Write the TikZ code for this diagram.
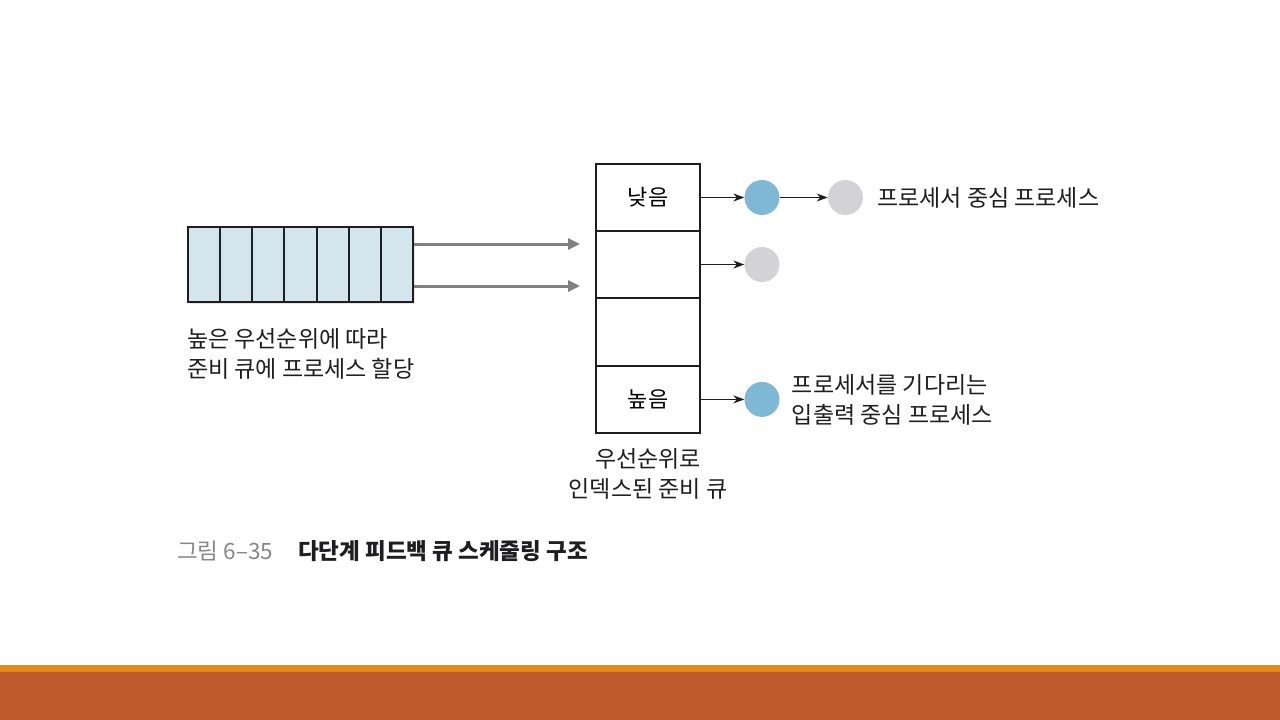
\documentclass[tikz,border=0pt]{standalone}
\usepackage{fontspec}
\setmainfont{Noto Sans CJK KR}
\usetikzlibrary{
  arrows.meta,
  positioning,
  shadows
}
\definecolor{QueueBlue}{RGB}{211,230,238}
\definecolor{LineDark}{RGB}{30,30,32}
\definecolor{FeedGray}{RGB}{128,128,128}
\definecolor{CpuBlue}{RGB}{126,184,212}
\definecolor{IdleGray}{RGB}{211,211,213}
\definecolor{CaptionGray}{RGB}{135,135,135}
\definecolor{BarOrange}{RGB}{224,138,30}
\definecolor{BarRust}{RGB}{190,90,44}
\tikzset{
  qcell/.style={
    draw=LineDark,
    fill=QueueBlue,
    line width=2pt,
    minimum width=32.14,
    minimum height=75,
    inner sep=0
  },
  pcell/.style={
    draw=LineDark,
    fill=white,
    line width=2pt,
    minimum width=104,
    minimum height=67.3,
    inner sep=0,
    font=\fontsize{22}{26}\selectfont
  },
  dot/.style={circle,minimum size=35,inner sep=0},
  cpudot/.style={dot,fill=CpuBlue},
  idledot/.style={dot,fill=IdleGray},
  note/.style={font=\fontsize{23}{30}\selectfont,text=LineDark,inner sep=0},
  feedarrow/.style={-{Triangle[length=12pt,width=11pt]},line width=3pt,draw=FeedGray},
  linkarrow/.style={-{Stealth[length=11pt,width=8pt]},line width=1pt,draw=LineDark}
}
\begin{document}
\begin{tikzpicture}[x=1pt,y=-1pt]
  \useasboundingbox (0,0) rectangle (1280,720);
  \fill[BarOrange] (0,665) rectangle (1280,672);
  \fill[BarRust] (0,672) rectangle (1280,720);

  % incoming queue
  \node[qcell,minimum width=225,
    drop shadow={opacity=0.2,shadow xshift=2pt,shadow yshift=-2pt}] (queue) at (300.5,264.5) {};
  \foreach \i in {0,...,6}
    \node[qcell] (q\i) at (204.07+32.14*\i,264.5) {};

  % ready queue indexed by priority
  \node[pcell] (c1) at (648,197.5) {낮음};
  \node[pcell,below=-2pt of c1] (c2) {};
  \node[pcell,below=-2pt of c2] (c3) {};
  \node[pcell,below=-2pt of c3] (c4) {높음};

  \coordinate (in1) at (580,244);
  \coordinate (in2) at (580,286);
  \draw[feedarrow] (queue.east |- in1) -- (in1);
  \draw[feedarrow] (queue.east |- in2) -- (in2);

  \node[cpudot] (a1) at (762,197.5) {};
  \node[idledot,right=48pt of a1] (a2) {};
  \node[idledot] (b1) at (762,264.5) {};
  \node[cpudot] (d1) at (c4 -| a1) {};

  \draw[linkarrow] (c1) -- (a1);
  \draw[linkarrow] (a1) -- (a2);
  \draw[linkarrow] (c2.east |- b1) -- (b1);
  \draw[linkarrow] (c4) -- (d1);

  \node[note,right=14pt of a2] (cpulabel) {프로세서 중심 프로세스};
  \node[note,right=12pt of d1,align=left] (iolabel) {프로세서를 기다리는\\입출력 중심 프로세스};
  \node[note,below=14pt of c4,align=center] (readylabel) {우선순위로\\인덱스된 준비 큐};
  \node[note,anchor=north west,align=left] (queuelabel) at ([yshift=-25pt]queue.south west)
    {높은 우선순위에 따라\\준비 큐에 프로세스 할당};

  \node[anchor=base west,inner sep=0,font=\fontsize{22.5}{26}\selectfont,text=CaptionGray]
    (fignum) at (177,559) {그림 6–35};
  \node[anchor=base west,inner sep=0,font=\fontsize{22.5}{26}\selectfont\bfseries,text=LineDark]
    (figtitle) at (298,559) {다단계 피드백 큐 스케줄링 구조};
\end{tikzpicture}
\end{document}
